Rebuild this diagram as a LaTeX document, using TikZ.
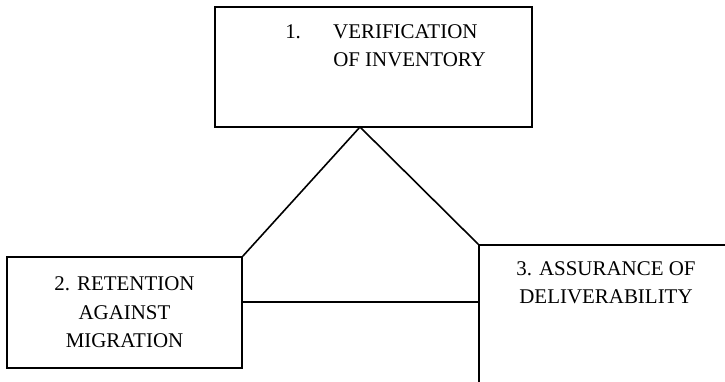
\documentclass[tikz,border=0pt]{standalone}
\usepackage{fontspec}
\setmainfont{Liberation Serif}
\usepackage{tikz}
\usetikzlibrary{positioning,calc}
\tikzset{
  stagebox/.style={rectangle,draw=black,line width=1.2pt,inner sep=0pt},
  stagetext/.style={font=\fontsize{15.7}{21.5}\selectfont,align=center,inner sep=0pt},
  link/.style={draw=black,line width=1.2pt}
}

\begin{document}
\begin{tikzpicture}[x=0.75pt,y=-0.75pt]
        \clip (0,0) rectangle (725,382);
        \fill[white] (0,0) rectangle (725,382);

        % Box 1
        \node[stagebox,minimum width=237.75pt,minimum height=90pt] (box1) at (373.5,67) {};
        \node[stagetext,align=left,anchor=north west] (box1text) at (285,24)
            {\makebox[36pt][l]{1.}VERIFICATION\\\hspace*{36pt}OF INVENTORY};

        % Box 2
        \node[stagebox,stagetext,minimum width=176.25pt,minimum height=83.25pt] (box2) at (124.5,312.5)
            {2. RETENTION\\AGAINST\\MIGRATION};

        % Box 3
        \node[stagebox,minimum width=210.75pt,minimum height=131.25pt] (box3) at (619.5,332.5) {};
        \node[stagetext,anchor=north] (box3text) at (606,261) {3. ASSURANCE OF\\DELIVERABILITY};

        % links
        \coordinate (apex) at (360,127);
        \coordinate (mid) at (360,302);
        \draw[link] (box2.north east) -- (apex) -- (box3.north west);
        \draw[link] (box2.east |- mid) -- (box3.west |- mid);
    \end{tikzpicture}
\end{document}
